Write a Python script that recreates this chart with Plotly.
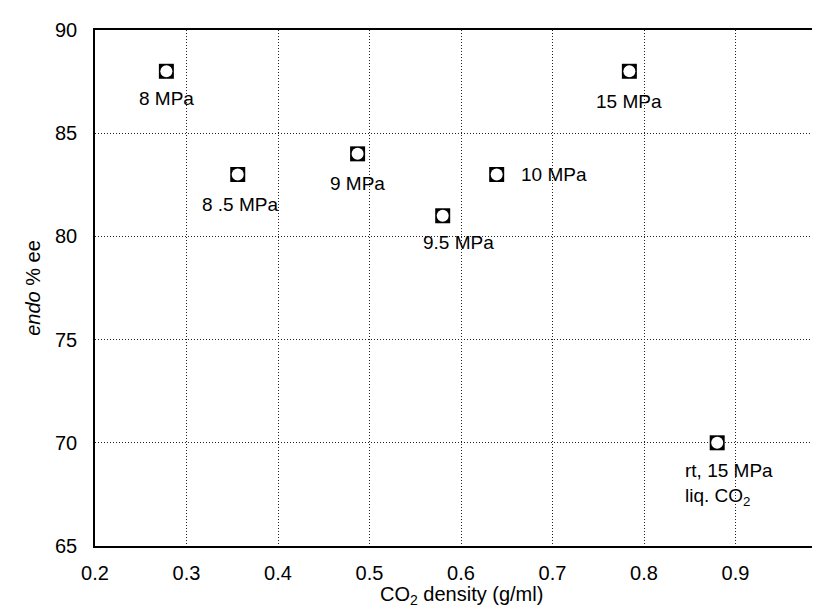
import plotly.graph_objects as go

density = [0.278, 0.356, 0.487, 0.580, 0.639, 0.784, 0.880]
ee = [88, 83, 84, 81, 83, 88, 70]
labels = ["8 MPa", "8 .5 MPa", "9 MPa", "9.5 MPa", "10 MPa", "15 MPa", "rt, 15 MPa<br>liq. CO<sub>2</sub>"]
x_ticks = [0.2, 0.3, 0.4, 0.5, 0.6, 0.7, 0.8, 0.9, 1.0]
x_ticktext = ["0.2", "0.3", "0.4", "0.5", "0.6", "0.7", "0.8", "0.9", "1"]
y_ticks = [65, 70, 75, 80, 85, 90]

# label placement (pixel offsets relative to marker)
offsets = [(0, -27, "center"), (2, -30, "center"), (0, -30, "center"), (16, -27, "center"),
           (22, 0, "left"), (0, -30, "center"), (-34, -42, "left")]

FONT = "Liberation Sans, Arial, sans-serif"

fig = go.Figure()
fig.add_trace(go.Scatter(x=density, y=ee, mode="markers",
                         marker=dict(symbol="square", size=15, color="black",
                                     line=dict(width=0)),
                         hoverinfo="skip", showlegend=False))
fig.add_trace(go.Scatter(x=density, y=ee, mode="markers",
                         marker=dict(symbol="circle", size=12, color="white",
                                     line=dict(width=0)),
                         showlegend=False))

for xv, yv, t, (dx, dy, al) in zip(density, ee, labels, offsets):
    fig.add_annotation(x=xv, y=yv, text=t, showarrow=False,
                       xshift=dx, yshift=dy,
                       xanchor="left" if al == "left" else "center",
                       align="left" if al == "left" else "center",
                       font=dict(family=FONT, size=19, color="black"))

axis_common = dict(showline=True, linecolor="black", linewidth=1.5, mirror=True,
                   showgrid=True, gridcolor="#222222", gridwidth=1, griddash="1px,2px",
                   zeroline=False, ticks="", automargin=False, ticklabeloverflow="allow",
                   tickfont=dict(family=FONT, size=20, color="black"))

fig.update_xaxes(range=[0.2, 1.0], tickvals=x_ticks, ticktext=x_ticktext,
                 ticklabelstandoff=8, **axis_common)
fig.update_yaxes(range=[65, 90], tickvals=y_ticks,
                 ticklabelstandoff=12, **axis_common)

# axis titles
fig.add_annotation(text="CO<sub>2</sub> density (g/ml)", xref="paper", yref="paper",
                   x=0.5, y=-0.095, xanchor="center", yanchor="middle", showarrow=False,
                   font=dict(family=FONT, size=20, color="black"))
fig.add_annotation(text="<i>endo</i> % ee", xref="paper", yref="paper",
                   x=-0.085, y=0.5, xanchor="center", yanchor="middle", showarrow=False,
                   textangle=-90,
                   font=dict(family=FONT, size=20, color="black"))

fig.update_layout(width=820, height=614, margin=dict(l=87, r=1, t=22, b=76),
                  plot_bgcolor="white", paper_bgcolor="white")

fig.write_html("out.html")
